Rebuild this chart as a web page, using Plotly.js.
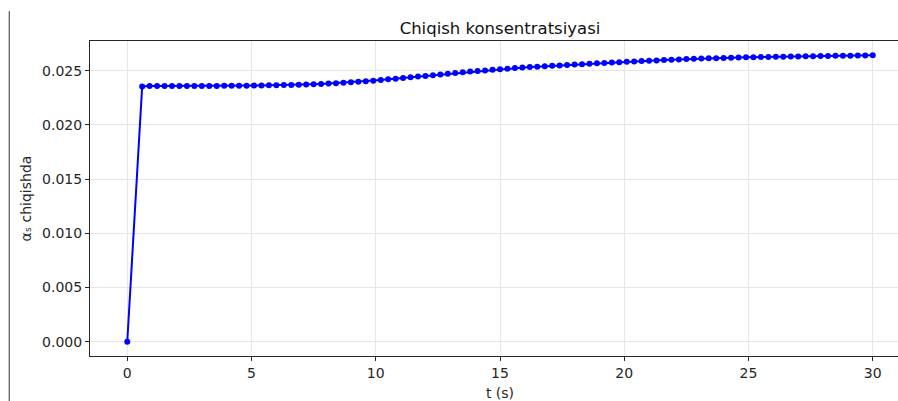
<!DOCTYPE html>
<html>
<head>
<meta charset="utf-8">
<script src="https://cdn.plot.ly/plotly-3.0.1.min.js"></script>
<style>
html,body{margin:0;padding:0;overflow:hidden;background:#fff;}
#chart{width:912px;height:401px;}
</style>
</head>
<body>
<div id="chart"></div>
<script>
const chartTitle = "Chiqish konsentratsiyasi";
const xTitle = "t (s)";
const yTitle = "αₛ chiqishda";

const tValues = [0, 0.6, 0.9, 1.2, 1.5, 1.8, 2.1, 2.4, 2.7, 3.0, 3.3, 3.6, 3.9, 4.2, 4.5, 4.8,
  5.1, 5.4, 5.7, 6.0, 6.3, 6.6, 6.9, 7.2, 7.5, 7.8, 8.1, 8.4, 8.7, 9.0, 9.3, 9.6, 9.9,
  10.2, 10.5, 10.8, 11.1, 11.4, 11.7, 12.0, 12.3, 12.6, 12.9, 13.2, 13.5, 13.8, 14.1, 14.4, 14.7,
  15.0, 15.3, 15.6, 15.9, 16.2, 16.5, 16.8, 17.1, 17.4, 17.7, 18.0, 18.3, 18.6, 18.9, 19.2, 19.5, 19.8,
  20.1, 20.4, 20.7, 21.0, 21.3, 21.6, 21.9, 22.2, 22.5, 22.8, 23.1, 23.4, 23.7, 24.0, 24.3, 24.6, 24.9,
  25.2, 25.5, 25.8, 26.1, 26.4, 26.7, 27.0, 27.3, 27.6, 27.9, 28.2, 28.5, 28.8, 29.1, 29.4, 29.7, 30.0];

const alphaOut = [0, 0.02355, 0.02358, 0.02358, 0.02358, 0.02359, 0.02359, 0.02359, 0.02359, 0.02360,
  0.02360, 0.02360, 0.02361, 0.02361, 0.02362, 0.02362, 0.02363, 0.02364, 0.02365, 0.02366,
  0.02367, 0.02369, 0.02371, 0.02373, 0.02375, 0.02378, 0.02381, 0.02385, 0.02389, 0.02393,
  0.02398, 0.02403, 0.02408, 0.02414, 0.02420, 0.02426, 0.02432, 0.02439, 0.02446, 0.02452,
  0.02459, 0.02466, 0.02472, 0.02479, 0.02485, 0.02492, 0.02498, 0.02503, 0.02509, 0.02514,
  0.02519, 0.02524, 0.02529, 0.02533, 0.02537, 0.02541, 0.02545, 0.02549, 0.02553, 0.02557,
  0.02560, 0.02564, 0.02568, 0.02571, 0.02575, 0.02578, 0.02582, 0.02585, 0.02589, 0.02592,
  0.02595, 0.02598, 0.02601, 0.02604, 0.02607, 0.02610, 0.02612, 0.02614, 0.02616, 0.02618,
  0.02620, 0.02621, 0.02623, 0.02624, 0.02626, 0.02627, 0.02628, 0.02629, 0.02631, 0.02632,
  0.02633, 0.02634, 0.02635, 0.02636, 0.02637, 0.02638, 0.02639, 0.02640, 0.02641, 0.02643];

const xTicks = [0, 5, 10, 15, 20, 25, 30];
const yTicks = [0, 0.005, 0.010, 0.015, 0.020, 0.025];
const yTickText = ["0.000", "0.005", "0.010", "0.015", "0.020", "0.025"];

const font = "DejaVu Sans, sans-serif";

const trace = {
  x: tValues, y: alphaOut, type: "scatter", mode: "lines+markers",
  line: {color: "#0000ff", width: 2},
  marker: {color: "#0000ff", size: 6},
  hoverinfo: "skip"
};

const axisCommon = {
  showline: true, linecolor: "#262626", linewidth: 1, mirror: true,
  ticks: "outside", ticklen: 4, tickwidth: 1, tickcolor: "#262626",
  showgrid: true, gridcolor: "#e6e6e6", gridwidth: 1,
  zeroline: false,
  tickfont: {family: font, size: 14, color: "#262626"}
};

const layout = {
  width: 912, height: 401,
  margin: {l: 90, r: 2, t: 41, b: 45},
  paper_bgcolor: "#ffffff", plot_bgcolor: "#ffffff",
  showlegend: false,
  title: {text: chartTitle, font: {family: font, size: 16.5, color: "#111"},
          x: 0.5, xref: "paper", y: 1, yref: "paper", yanchor: "bottom", pad: {b: 7}},
  xaxis: Object.assign({}, axisCommon, {
    range: [-1.5, 31.5], tickvals: xTicks, ticktext: xTicks.map(String),
    title: {text: xTitle, font: {family: font, size: 14, color: "#262626"}, standoff: 9}
  }),
  yaxis: Object.assign({}, axisCommon, {
    range: [-0.00132, 0.02774], tickvals: yTicks, ticktext: yTickText,
    title: {text: yTitle, font: {family: font, size: 14, color: "#262626"}, standoff: 7}
  }),
  shapes: [{
    type: "line", xref: "paper", yref: "paper",
    x0: -0.0985, x1: -0.0985, y0: 1.095, y1: -0.2,
    line: {color: "#333333", width: 1}
  }]
};

Plotly.newPlot("chart", [trace], layout, {displayModeBar: false, staticPlot: true});
</script>
</body>
</html>
